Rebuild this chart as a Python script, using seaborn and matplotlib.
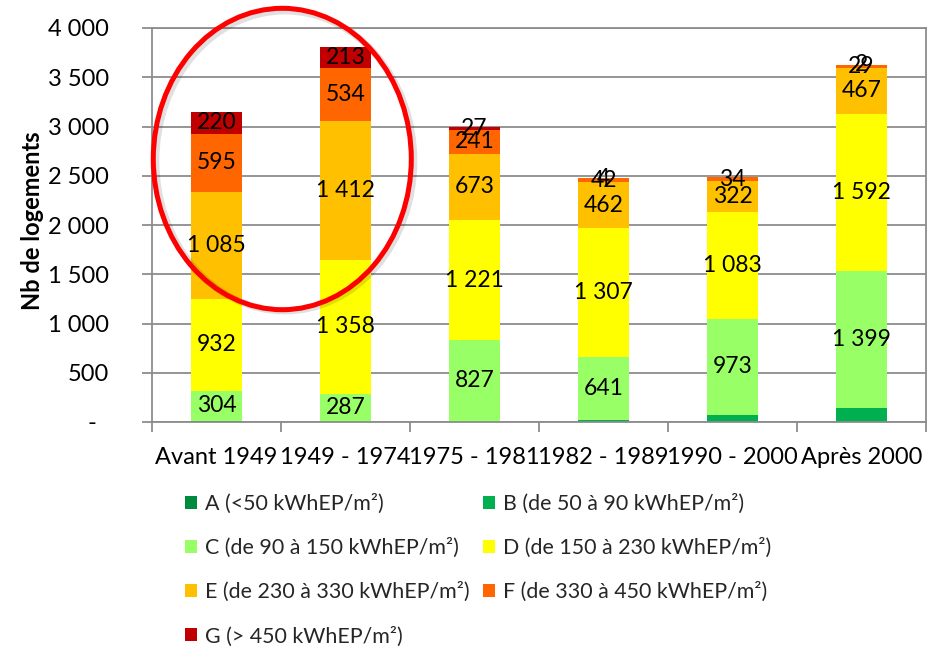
import numpy as np
import pandas as pd
import matplotlib
matplotlib.use("Agg")
import matplotlib.pyplot as plt
from matplotlib.patches import Ellipse, Patch
from matplotlib.ticker import FuncFormatter, FixedLocator
import seaborn as sns

# Housing stock by construction period and energy label (number of dwellings)
periodes = ["Avant 1949", "1949 - 1974", "1975 - 1981", "1982 - 1989", "1990 - 2000", "Après 2000"]
classe_A = [0, 0, 0, 0, 0, 0]
classe_B = [12, 0, 4, 22, 72, 138]
classe_C = [304, 287, 827, 641, 973, 1399]
classe_D = [932, 1358, 1221, 1307, 1083, 1592]
classe_E = [1085, 1412, 673, 462, 322, 467]
classe_F = [595, 534, 241, 42, 34, 29]
classe_G = [220, 213, 27, 4, 0, 2]

classes = ["A", "B", "C", "D", "E", "F", "G"]
libelles = [
    "A (<50 kWhEP/m²)",
    "B (de 50 à 90 kWhEP/m²)",
    "C (de 90 à 150 kWhEP/m²)",
    "D (de 150 à 230 kWhEP/m²)",
    "E (de 230 à 330 kWhEP/m²)",
    "F (de 330 à 450 kWhEP/m²)",
    "G (> 450 kWhEP/m²)",
]
couleurs = ["#008A3E", "#00B050", "#99FF66", "#FFFF00", "#FFC000", "#FF6600", "#C00000"]
labelled = {"C", "D", "E", "F", "G"}

valeurs = [classe_A, classe_B, classe_C, classe_D, classe_E, classe_F, classe_G]
df = pd.DataFrame({c: v for c, v in zip(classes, valeurs)}, index=periodes)
cumul = df.cumsum(axis=1)

sns.set_theme(style="white")
plt.rcParams["font.family"] = ["Lato", "DejaVu Sans"]

fig = plt.figure(figsize=(9.38, 6.48), dpi=100)
ax = fig.add_axes([152 / 938, (648 - 422) / 648, 774 / 938, 394 / 648])

# Stacked bars: draw cumulative totals from the top class down so each segment shows
for c, col in reversed(list(zip(classes, couleurs))):
    layer = pd.DataFrame({"periode": periodes, "cumul": cumul[c].values})
    sns.barplot(data=layer, x="periode", y="cumul", order=periodes, color=col,
                saturation=1, width=0.4, linewidth=0, ax=ax)

# Value labels centred in each segment
for c in classes:
    if c not in labelled:
        continue
    for i, p in enumerate(periodes):
        v = df.loc[p, c]
        if v <= 0:
            continue
        base = cumul.loc[p, c] - v
        txt = f"{v:,}".replace(",", " ")
        ax.text(i, base + v / 2, txt, ha="center", va="center", fontsize=16.5,
                color="black", zorder=5)

ax.set_xlim(-0.5, 5.5)
ax.set_ylim(0, 4000)
ax.set_axisbelow(True)
ax.yaxis.set_major_locator(FixedLocator(np.arange(0, 4001, 500)))
ax.yaxis.set_major_formatter(FuncFormatter(
    lambda v, _: "-  " if v == 0 else f"{int(v):,}".replace(",", " ")))
ax.grid(axis="y", color="#8C8C8C", linewidth=1.3)
ax.grid(axis="x", visible=False)

grey = "#8C8C8C"
for side in ["left", "bottom", "right", "top"]:
    ax.spines[side].set_visible(True)
    ax.spines[side].set_color(grey)
    ax.spines[side].set_linewidth(1.3)

ax.tick_params(axis="y", which="major", direction="out", length=7, width=1.3,
               color=grey, pad=24, labelsize=17, labelcolor="black", left=True)
ax.set_xticks(range(len(periodes)))
ax.set_xticklabels(periodes)
ax.tick_params(axis="x", which="major", length=0, pad=18, labelsize=17, labelcolor="black")
ax.xaxis.set_minor_locator(FixedLocator(np.arange(-0.5, 5.6, 1)))
ax.tick_params(axis="x", which="minor", direction="out", length=7, width=1.3,
               color=grey, bottom=True)

ax.set_xlabel("")
ax.set_ylabel("Nb de logements", fontsize=17, fontweight="bold", color="black")
ax.yaxis.set_label_coords(-0.14, 0.51)

# Highlight around the two oldest periods
shadow = Ellipse((0.53, 2650), 2.0, 3046, fill=False, edgecolor="#000000",
                 linewidth=5, alpha=0.12, clip_on=False, zorder=6)
ax.add_patch(shadow)
ring = Ellipse((0.51, 2670), 2.0, 3060, fill=False, edgecolor="#FF0000",
               linewidth=3.6, clip_on=False, zorder=7)
ax.add_patch(ring)

# Legend: two columns, filled row by row
handles = [Patch(facecolor=col, edgecolor="none") for col in couleurs]
order = [0, 2, 4, 6, 1, 3, 5]
fig.legend([handles[i] for i in order], [libelles[i] for i in order],
           loc="upper left", bbox_to_anchor=(185 / 938, 1 - 494 / 648),
           ncol=2, frameon=False, fontsize=15.4, handlelength=0.55,
           handleheight=0.55, handletextpad=0.4, labelspacing=1.12,
           columnspacing=0.6, borderaxespad=0, borderpad=0)

fig.savefig("out.png", dpi=100)
